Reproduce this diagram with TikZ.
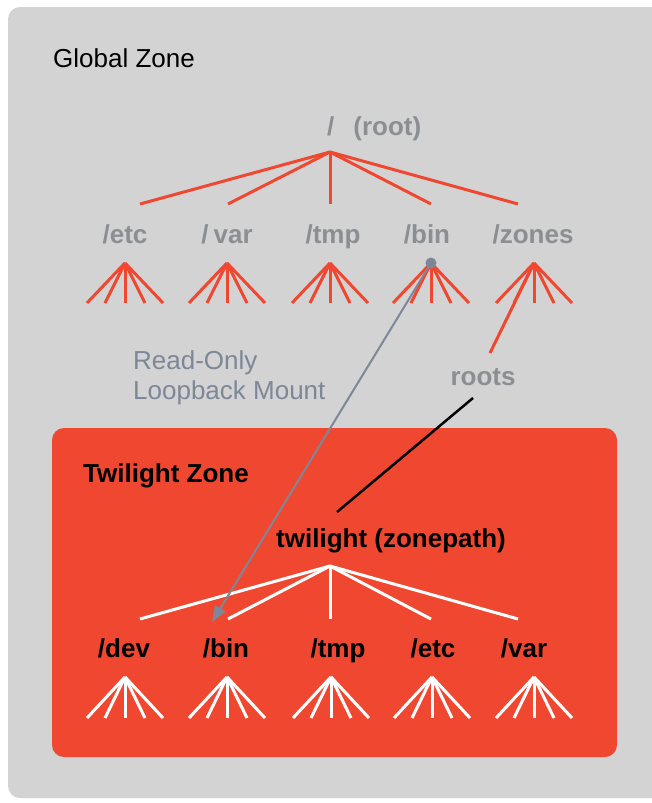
\documentclass[tikz,border=0pt]{standalone}
\usepackage{fontspec}
\setmainfont{Liberation Sans}
\usetikzlibrary{arrows.meta,positioning}

\definecolor{zonegray}{RGB}{211,211,211}
\definecolor{zonered}{RGB}{240,72,48}
\definecolor{dirgray}{RGB}{139,142,146}
\definecolor{mountgray}{RGB}{125,135,152}

\tikzset{
  treeline/.style={line width=3pt},
  dirlabel/.style={font=\fontsize{26}{30}\selectfont\bfseries, inner sep=0pt, anchor=base},
  zonelabel/.style={font=\fontsize{26}{30}\selectfont, inner sep=0pt, anchor=base west},
}

\begin{document}
\begin{tikzpicture}[x=1pt, y=-1pt]
    \useasboundingbox (0,0) rectangle (652,803);
    \clip (0,0) rectangle (652,803);

    % global zone
    \fill[zonegray, rounded corners=12pt] (8,7) rectangle (690,798);
    \node[zonelabel] (global) at (53,67) {Global Zone};

    \node[dirlabel, dirgray, anchor=base west] (groot) at (327,135) {/\hspace{19pt}(root)};
    \coordinate (groot-fork) at (330,152);

    \node[dirlabel, dirgray] (g-etc) at (125,243) {/etc};
    \node[dirlabel, dirgray] (g-var) at (227,243) {/\hspace{5pt}var};
    \node[dirlabel, dirgray] (g-tmp) at (333,243) {/tmp};
    \node[dirlabel, dirgray] (g-bin) at (427,243) {/bin};
    \node[dirlabel, dirgray] (g-zones) at (533,243) {/zones};

    \coordinate (g-etc-in) at (140,204);
    \coordinate (g-var-in) at (228,204);
    \coordinate (g-tmp-in) at (330,204);
    \coordinate (g-bin-in) at (431,204);
    \coordinate (g-zones-in) at (518,204);

    \coordinate (g-etc-fan) at (125,263);
    \coordinate (g-var-fan) at (227,263);
    \coordinate (g-tmp-fan) at (330,263);
    \coordinate (g-bin-fan) at (431,263);
    \coordinate (g-zones-fan) at (534,263);

    \foreach \n in {etc,var,tmp,bin,zones} {
        \draw[treeline, zonered] (groot-fork) -- (g-\n-in);
        \foreach \dx in {-38,-20,0,20,38}
            \draw[treeline, zonered] (g-\n-fan) -- ++(\dx,40);
    }

    \node[dirlabel, dirgray] (roots) at (483,385) {roots};
    \coordinate (roots-in) at (490,353);
    \draw[treeline, zonered] (g-zones-fan) -- (roots-in);

    \node[zonelabel, mountgray, align=left, anchor=north west] (mount) at (133,350)
        {Read-Only\\Loopback Mount};

    % twilight zone
    \fill[zonered, rounded corners=12pt] (52,428) rectangle (617,757);
    \node[zonelabel, font=\fontsize{26}{30}\selectfont\bfseries] (tzone) at (83,482) {Twilight Zone};

    \node[dirlabel] (twilight) at (391,547) {twilight (zonepath)};
    \coordinate (t-fork) at (330,566);

    \node[dirlabel] (t-dev) at (124,657) {/dev};
    \node[dirlabel] (t-bin) at (226,657) {/bin};
    \node[dirlabel] (t-tmp) at (338,657) {/tmp};
    \node[dirlabel] (t-etc) at (433,657) {/etc};
    \node[dirlabel] (t-var) at (524,657) {/var};

    \coordinate (t-dev-in) at (140,619);
    \coordinate (t-bin-in) at (228,619);
    \coordinate (t-tmp-in) at (330,619);
    \coordinate (t-etc-in) at (431,619);
    \coordinate (t-var-in) at (518,619);

    \coordinate (t-dev-fan) at (125,677);
    \coordinate (t-bin-fan) at (227,677);
    \coordinate (t-tmp-fan) at (331,677);
    \coordinate (t-etc-fan) at (432,677);
    \coordinate (t-var-fan) at (534,677);

    \foreach \n in {dev,bin,tmp,etc,var} {
        \draw[treeline, white] (t-fork) -- (t-\n-in);
        \foreach \dx in {-38,-20,0,20,38}
            \draw[treeline, white] (t-\n-fan) -- ++(\dx,41);
    }

    % links between zones
    \coordinate (roots-out) at (473,398);
    \coordinate (twilight-in) at (337,512);
    \draw[line width=2.5pt, black] (roots-out) -- (twilight-in);

    \coordinate (mount-end) at (212,622);
    \fill[mountgray] (g-bin-fan) circle (5.5);
    \draw[line width=2pt, mountgray, -{Triangle[length=16pt, width=12pt]}] (g-bin-fan) -- (mount-end);
\end{tikzpicture}
\end{document}
